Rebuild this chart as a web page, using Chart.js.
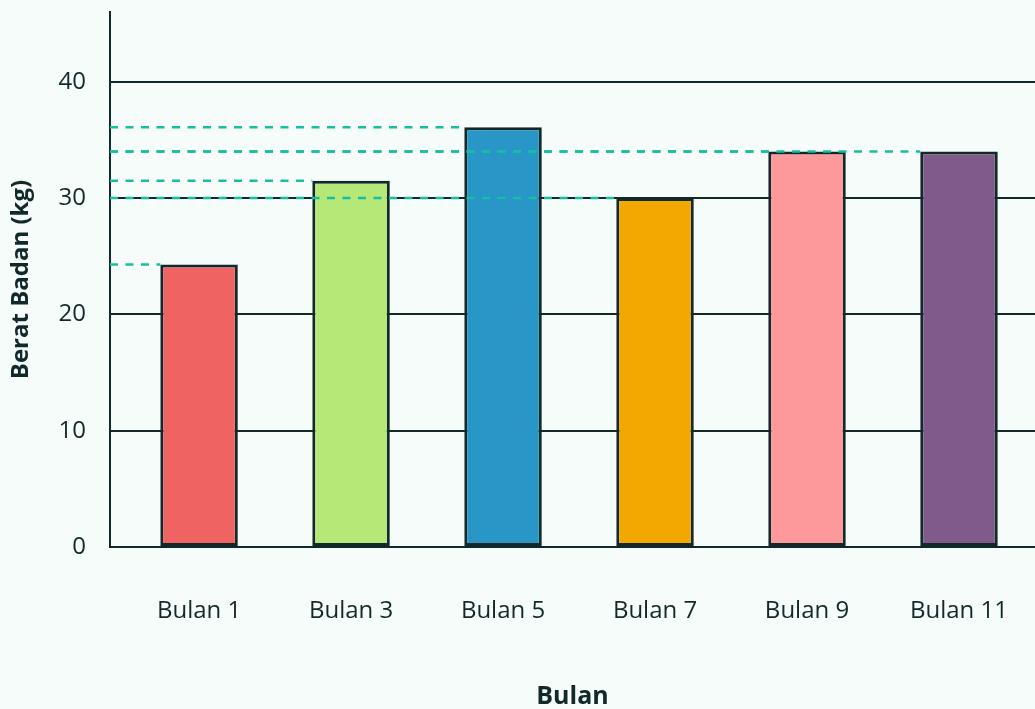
<!DOCTYPE html>
<html lang="id">
<head>
<meta charset="utf-8">
<title>Berat Badan per Bulan</title>
<script src="https://cdn.jsdelivr.net/npm/chart.js@4.4.1/dist/chart.umd.min.js"></script>
<style>
  html, body { margin: 0; padding: 0; background: #f5fcfa; }
  canvas { display: block; }
</style>
</head>
<body>
<canvas id="grafikBerat" width="1035" height="709"></canvas>
<script>
const labelBulan = ["Bulan 1", "Bulan 3", "Bulan 5", "Bulan 7", "Bulan 9", "Bulan 11"];
const beratBadan = [24.3, 31.5, 36.1, 30, 34, 34];
const warnaBatang = ["#f06363", "#b5e877", "#2896c6", "#f2a800", "#fd989b", "#7f5a8b"];

const warnaGaris = "#12292a";
const warnaPutus = "#17bfa0";
const hurufDasar = "'Open Sans', sans-serif";

// garis putus-putus dari sumbu y ke sisi kiri tiap batang
const garisBantu = {
  id: "garisBantu",
  afterDatasetsDraw(chart) {
    const { ctx, chartArea } = chart;
    const batang = chart.getDatasetMeta(0).data;
    ctx.save();
    ctx.strokeStyle = warnaPutus;
    ctx.lineWidth = 2.5;
    ctx.setLineDash([8, 7.5]);
    batang.forEach((b) => {
      const kiri = b.x - b.width / 2;
      ctx.beginPath();
      ctx.moveTo(chartArea.left, b.y);
      ctx.lineTo(kiri, b.y);
      ctx.stroke();
    });
    ctx.restore();
  },
};

const canvas = document.getElementById("grafikBerat");

new Chart(canvas, {
  type: "bar",
  data: {
    datasets: [
      {
        data: beratBadan.map((nilai, i) => ({ x: i, y: nilai })),
        backgroundColor: warnaBatang,
        borderColor: warnaGaris,
        borderWidth: 3,
        borderSkipped: false,
        categoryPercentage: 1,
        barPercentage: 0.51,
      },
    ],
  },
  options: {
    responsive: false,
    animation: false,
    layout: { padding: { top: 12, right: 0, left: 0, bottom: 0 } },
    plugins: {
      legend: { display: false },
      tooltip: { enabled: false },
    },
    scales: {
      x: {
        type: "linear",
        offset: false,
        min: -0.586,
        max: 5.5,
        afterFit(scale) {
          scale.height = 162;
          scale.paddingLeft = 0;
          scale.paddingRight = 0;
        },
        grid: { display: false, drawTicks: false },
        border: { display: true, color: warnaGaris, width: 2 },
        ticks: {
          stepSize: 1,
          includeBounds: false,
          autoSkip: false,
          maxRotation: 0,
          padding: 50,
          color: warnaGaris,
          font: { family: hurufDasar, size: 24 },
          callback: (v) => labelBulan[v] ?? "",
        },
        title: {
          display: true,
          text: "Bulan",
          color: warnaGaris,
          font: { family: hurufDasar, size: 25, weight: "bold", lineHeight: 1 },
          padding: { top: 0, bottom: 0 },
        },
      },
      y: {
        min: 0,
        max: 46,
        afterFit(scale) {
          scale.width = 110;
          scale.paddingTop = 0;
          scale.paddingBottom = 0;
        },
        grid: { color: warnaGaris, lineWidth: 2, drawTicks: false },
        border: { display: true, color: warnaGaris, width: 2 },
        ticks: {
          stepSize: 10,
          includeBounds: false,
          padding: 24,
          color: warnaGaris,
          font: { family: hurufDasar, size: 24 },
        },
        title: {
          display: true,
          text: "Berat Badan (kg)",
          color: warnaGaris,
          font: { family: hurufDasar, size: 24, weight: "bold" },
          padding: { top: 7, bottom: 0 },
        },
      },
    },
  },
  plugins: [garisBantu],
});
</script>
</body>
</html>
